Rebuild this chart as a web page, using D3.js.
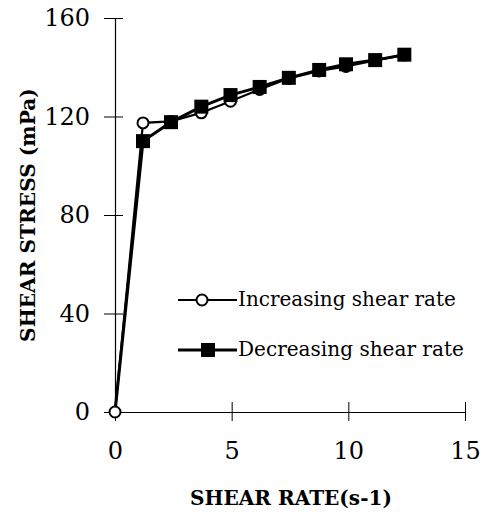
<!DOCTYPE html>
<html><head><meta charset="utf-8">
<script src="https://cdn.jsdelivr.net/npm/d3@7"></script>
<style>body{margin:0;background:#fff}</style>
</head><body>
<svg id="c" width="484" height="512"></svg>
<script>
const incX = [0, 1.2, 2.4, 3.7, 4.95, 6.2, 7.45, 8.75, 9.9, 11.15, 12.4];
const incY = [0, 117.4, 118.0, 121.5, 126.2, 131.0, 135.5, 138.5, 140.3, 142.8, 145.0];
const decX = [0, 1.2, 2.4, 3.7, 4.95, 6.2, 7.45, 8.75, 9.9, 11.15, 12.4];
const decY = [0, 110.0, 117.7, 124.0, 128.7, 132.0, 135.7, 138.9, 141.2, 142.9, 145.1];
const xTicks = [0, 5, 10, 15];
const yTicks = [0, 40, 80, 120, 160];
const seriesNames = ["Increasing shear rate", "Decreasing shear rate"];

const svg = d3.select("#c");
const font = "'DejaVu Serif', 'Liberation Serif', serif";
const x = d3.scaleLinear().domain([0, 15]).range([115, 465]);
const y = d3.scaleLinear().domain([0, 160]).range([412, 18]);

function fitText(sel, width) {
  const w = sel.node().getComputedTextLength();
  const fs = parseFloat(sel.attr("font-size"));
  sel.attr("font-size", fs * width / w);
}

// axes
const ax = svg.append("g").attr("transform", `translate(0,${y(0)})`)
  .call(d3.axisBottom(x).tickValues(xTicks).tickSizeInner(9).tickSizeOuter(0).tickPadding(21));
ax.selectAll(".tick line").attr("y1", -10);
const ay = svg.append("g").attr("transform", `translate(${x(0)},0)`)
  .call(d3.axisLeft(y).tickValues(yTicks).tickSizeInner(11).tickSizeOuter(0).tickPadding(14));
ay.selectAll(".tick line").attr("x1", 8);
[ax, ay].forEach(g => {
  g.attr("font-family", null);
  g.select(".domain").attr("stroke", "#000").attr("stroke-width", 1.2);
  g.selectAll(".tick line").attr("stroke", "#000").attr("stroke-width", 1);
  g.selectAll("text").style("font-family", font).attr("font-size", 24).attr("fill", "#000");
});

// lines
const line = d3.line().x(d => x(d[0])).y(d => y(d[1]));
const inc = incX.map((v, i) => [v, incY[i]]);
const dec = decX.map((v, i) => [v, decY[i]]);
svg.append("path").datum(inc).attr("d", line).attr("fill", "none").attr("stroke", "#000").attr("stroke-width", 2.2);
svg.append("path").datum(dec).attr("d", line).attr("fill", "none").attr("stroke", "#000").attr("stroke-width", 3);
svg.selectAll(".circ").data(inc).join("circle")
  .attr("cx", d => x(d[0])).attr("cy", d => y(d[1])).attr("r", 5.5)
  .attr("fill", "#fff").attr("stroke", "#000").attr("stroke-width", 2);
svg.selectAll(".sq").data(dec.slice(1)).join("rect")
  .attr("x", d => x(d[0]) - 7).attr("y", d => y(d[1]) - 7).attr("width", 14).attr("height", 14)
  .attr("fill", "#000");

// legend
const lgY = [300, 350];
const lgW = [218, 226];
lgY.forEach((ly, i) => {
  svg.append("line").attr("x1", 178).attr("x2", 237).attr("y1", ly).attr("y2", ly)
    .attr("stroke", "#000").attr("stroke-width", i ? 3 : 2);
  if (i === 0) svg.append("circle").attr("cx", 202).attr("cy", ly).attr("r", 5.5)
    .attr("fill", "#fff").attr("stroke", "#000").attr("stroke-width", 2);
  else svg.append("rect").attr("x", 201).attr("y", ly - 7).attr("width", 14).attr("height", 14).attr("fill", "#000");
  const t = svg.append("text").attr("x", 238).attr("y", ly + 6).text(seriesNames[i])
    .style("font-family", font).attr("font-size", 18).attr("fill", "#000");
  fitText(t, lgW[i]);
});

// titles
const xt = svg.append("text").attr("x", 291).attr("y", 505).attr("text-anchor", "middle")
  .style("font-family", font).attr("font-weight", "bold").attr("font-size", 18).attr("fill", "#000").text("SHEAR RATE(s-1)");
fitText(xt, 202);
const yt = svg.append("text").attr("transform", "translate(35,215) rotate(-90)").attr("text-anchor", "middle")
  .style("font-family", font).attr("font-weight", "bold").attr("font-size", 18).attr("fill", "#000").text("SHEAR STRESS (mPa)");
fitText(yt, 254);
</script>
</body></html>
